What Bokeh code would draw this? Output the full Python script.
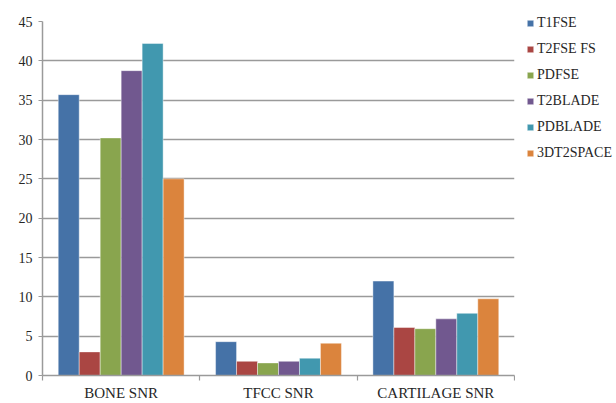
import numpy as np
from bokeh.plotting import figure
from bokeh.layouts import row
from bokeh.models import (ColumnDataSource, Range1d, FixedTicker, SingleIntervalTicker,
                          Legend, LegendItem)
from bokeh.transform import dodge
from bokeh.embed import file_html
from bokeh.resources import INLINE

categories = ["BONE SNR", "TFCC SNR", "CARTILAGE SNR"]
series_names = ["T1FSE", "T2FSE FS", "PDFSE", "T2BLADE", "PDBLADE", "3DT2SPACE"]
t1fse = [35.7, 4.3, 12.0]
t2fse_fs = [3.0, 1.8, 6.1]
pdfse = [30.2, 1.6, 5.95]
t2blade = [38.75, 1.8, 7.2]
pdblade = [42.2, 2.2, 7.9]
t3dt2space = [25.0, 4.1, 9.75]
colors = ["#4572A7", "#AA4643", "#89A54E", "#71588F", "#4198AF", "#DB843D"]
series_values = [t1fse, t2fse_fs, pdfse, t2blade, pdblade, t3dt2space]

FONT = "Liberation Serif"
GRID = "#9a9a9a"
TEXT = "#262626"

n_cat = len(categories)
centers = list(np.arange(n_cat) + 0.5)
boundaries = list(np.arange(n_cat + 1))

p = figure(width=515, height=403, output_backend="svg", toolbar_location=None,
           title=None,
           x_range=Range1d(0, n_cat), y_range=Range1d(0, 45),
           min_border_left=42, min_border_top=21, min_border_right=1, min_border_bottom=0)
p.outline_line_color = None
p.background_fill_color = "white"
p.border_fill_color = "white"
p.frame_align = False

src = ColumnDataSource(dict(x=centers, **{f"s{j}": v for j, v in enumerate(series_values)}))
n_s = len(series_names)
bw = 0.8 / n_s
for j, name in enumerate(series_names):
    off = (j - (n_s - 1) / 2) * bw
    p.vbar(x=dodge("x", off, range=p.x_range), top=f"s{j}", width=bw, bottom=0,
           source=src, fill_color=colors[j], line_color="white", line_width=0.6,
           line_alpha=0.7)

# x axis: labels at category centers, ticks at category boundaries
xa = p.xaxis[0]
xa.ticker = FixedTicker(ticks=centers, minor_ticks=boundaries)
xa.major_label_overrides = {c: lab for c, lab in zip(centers, categories)}
xa.major_tick_out = 0
xa.major_tick_in = 0
xa.minor_tick_out = 5
xa.minor_tick_in = 0
xa.minor_tick_line_color = GRID
xa.minor_tick_line_width = 1.2
xa.axis_line_color = GRID
xa.axis_line_width = 1.5
xa.major_label_text_font = FONT
xa.major_label_text_font_size = "15px"
xa.major_label_text_color = TEXT
xa.major_label_standoff = 4

ya = p.yaxis[0]
ya.ticker = SingleIntervalTicker(interval=5)
ya.major_tick_out = 4
ya.major_tick_in = 0
ya.minor_tick_out = 0
ya.minor_tick_in = 0
ya.major_tick_line_color = GRID
ya.major_tick_line_width = 1.2
ya.axis_line_color = GRID
ya.axis_line_width = 1.5
ya.major_label_text_font = FONT
ya.major_label_text_font_size = "14px"
ya.major_label_text_color = TEXT
ya.major_label_standoff = 6

p.xgrid.grid_line_color = None
p.ygrid.grid_line_color = GRID
p.ygrid.grid_line_width = 1.5
p.ygrid.ticker = SingleIntervalTicker(interval=5)

# legend panel (separate figure to the right of the plot area)
q = figure(width=101, height=403, output_backend="svg", toolbar_location=None,
           title=None, x_axis_location=None, y_axis_location=None,
           x_range=Range1d(0, 1), y_range=Range1d(0, 1),
           min_border=0, min_border_left=0, min_border_right=0,
           min_border_top=0, min_border_bottom=0)
q.outline_line_color = None
q.grid.visible = False
q.frame_align = False
items = []
for j, name in enumerate(series_names):
    r = q.vbar(x="x", top=f"s{j}", width=bw, source=src, fill_color=colors[j],
               line_color="white", line_width=0.6, line_alpha=0.7, visible=False)
    items.append(LegendItem(label=name, renderers=[r]))

legend = Legend(items=items, location=(11, 240), orientation="vertical")
legend.margin = 0
legend.padding = 0
legend.spacing = 6
legend.label_height = 20
legend.glyph_width = 8
legend.glyph_height = 8
legend.label_standoff = 3
legend.label_text_font = FONT
legend.label_text_font_size = "14px"
legend.label_text_color = TEXT
legend.border_line_color = None
legend.background_fill_alpha = 0
legend.inactive_fill_alpha = 0
legend.click_policy = "none"
q.add_layout(legend, "center")

layout = row(p, q, spacing=0)
open("out.html", "w").write(file_html(layout, INLINE))
